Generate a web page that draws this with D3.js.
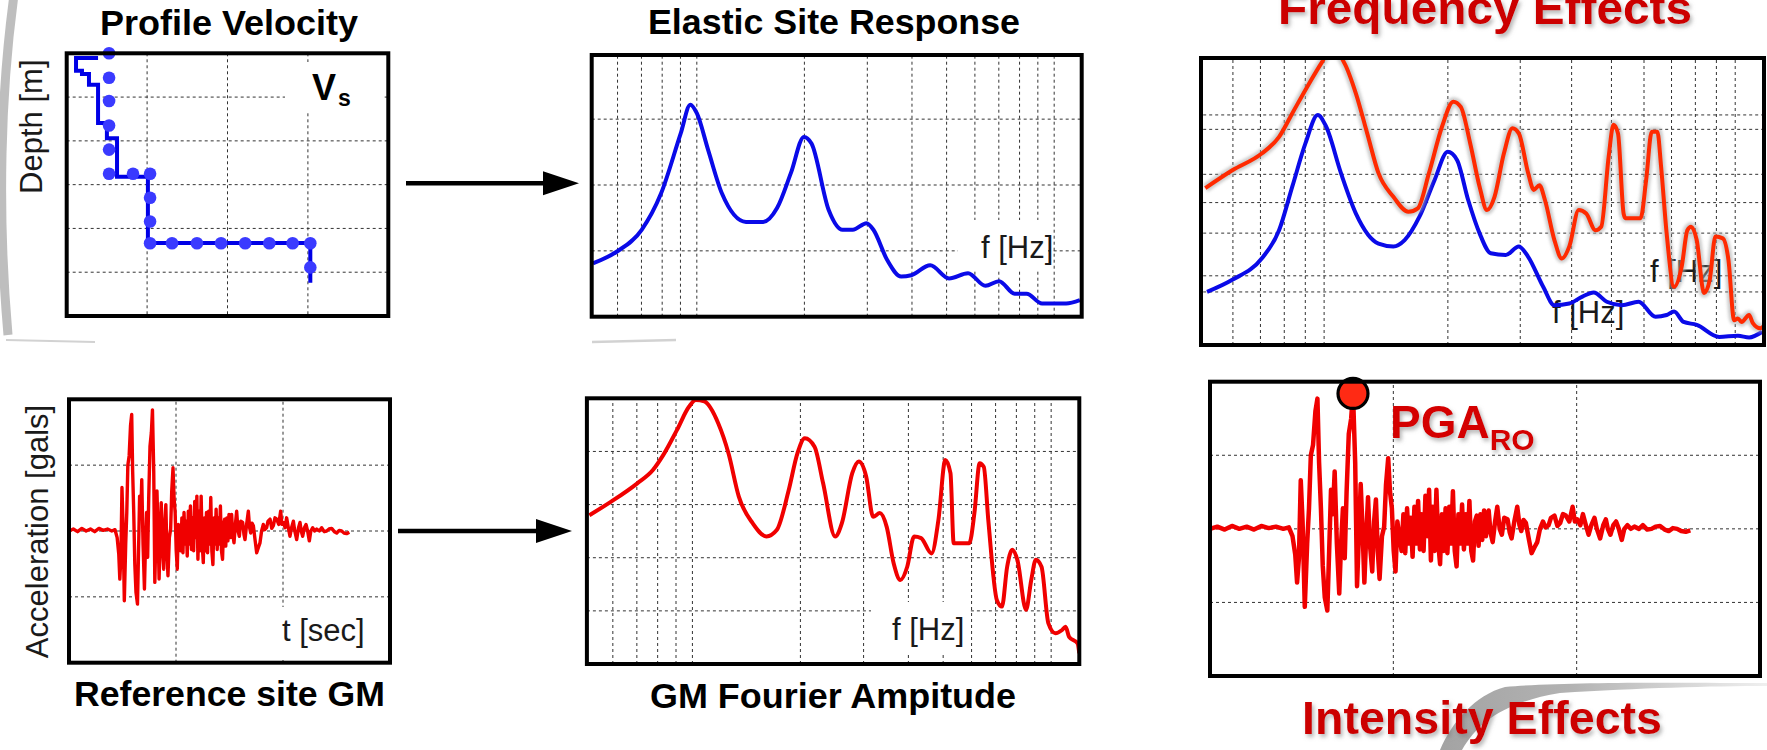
<!DOCTYPE html>
<html lang="en">
<head>
<meta charset="utf-8">
<script src="https://d3js.org/d3.v7.min.js"></script>
<style>
body { margin: 0; background: #fff; }
svg text { font-family: "Liberation Sans", Arial, sans-serif; }
.grid line { stroke: #333; stroke-width: 1; stroke-dasharray: 3,3; }
.frame { fill: none; stroke: #000; stroke-width: 4; }
.title { font-weight: bold; font-size: 35px; fill: #000; text-anchor: middle; }
.redtitle { font-weight: bold; font-size: 47px; fill: #cc0000; text-anchor: middle; }
.lab { font-size: 31px; fill: #1a1a1a; }
</style>
</head>
<body>
<div id="chart"></div>
<script>
// ---- data ----
// shear wave velocity profile (grid units: velocity 0-4, depth 0-6)
var vsVel   = [0.39, 0.116, 0.19, 0.277, 0.39, 0.50, 0.626, 1.01, 3.03];
var vsDepth = [0.11, 0.40, 0.47, 0.72, 1.59, 1.94, 2.82, 4.33, 5.24];
var dotVel   = [0.527,0.527,0.527,0.527,0.527,0.527,0.825,1.037,1.037,1.037,1.037,1.31,1.62,1.92,2.22,2.52,2.81,3.03,3.03];
var dotDepth = [0,0.56,1.09,1.65,2.20,2.75,2.75,2.75,3.30,3.84,4.34,4.34,4.34,4.34,4.34,4.34,4.34,4.34,4.89];

// frequency grid (Hz)
var freqGrid = [0.6,0.7,0.8,0.9,1,2,3,4,5,6,7,8,9,10];

// elastic site response (blue)
var esFreq = [0.512,0.598,0.701,0.794,0.901,0.959,1.0,1.076,1.176,1.373,1.534,1.677,1.833,1.994,2.094,2.339,2.556,2.732,2.985,3.12,3.41,3.73,3.98,4.50,5.08,5.74,6.42,7.01,7.75,8.37,9.25,10.8,11.8];
var esAmp  = [0.81,0.99,1.32,1.87,2.78,3.22,3.09,2.53,1.87,1.44,1.44,1.65,2.18,2.73,2.63,1.62,1.32,1.32,1.42,1.32,0.86,0.61,0.63,0.78,0.58,0.66,0.47,0.54,0.35,0.35,0.20,0.20,0.25];

// GM Fourier amplitude (red)
var faFreq = [0.516,0.595,0.702,0.776,0.829,0.905,0.978,1.022,1.080,1.180,1.261,1.347,1.472,1.608,1.718,1.855,1.961,2.058,2.190,2.314,2.50,2.61,2.79,2.91,3.05,3.19,3.33,3.48,3.64,3.80,3.97,4.15,4.34,4.64,4.85,5.07,5.24,5.35,5.91,6.11,6.32,6.49,6.68,7.06,7.29,7.54,7.79,8.05,8.51,8.80,9.06,9.40,9.82,10.27,10.73,10.97,11.22,11.85,11.98];
var faAmp  = [2.80,3.06,3.40,3.65,3.93,4.40,4.84,4.97,4.94,4.53,3.96,3.15,2.65,2.40,2.52,3.27,3.96,4.25,4.09,3.40,2.40,2.65,3.59,3.81,3.53,2.77,2.84,2.58,1.89,1.58,1.83,2.40,2.37,2.08,2.71,3.84,3.59,2.27,2.27,2.84,3.78,3.71,2.71,1.20,1.08,1.83,2.15,1.96,1.02,1.58,1.96,1.83,0.77,0.58,0.64,0.70,0.51,0.39,0.20];

// frequency effects: blue (elastic) and red (surface)
var feBlueFreq = [0.519,0.598,0.705,0.777,0.837,0.901,0.965,1.011,1.099,1.195,1.356,1.474,1.570,1.707,1.856,1.998,2.105,2.242,2.388,2.543,2.765,2.976,3.136,3.411,3.632,3.949,4.250,4.526,4.871,5.30,5.82,6.40,6.81,7.10,7.49,8.06,9.14,10.15,10.81,11.63];
var feBlueAmp  = [0.92,1.13,1.50,1.99,2.75,3.50,3.99,3.79,2.98,2.28,1.76,1.71,1.82,2.23,2.86,3.35,3.21,2.51,1.94,1.59,1.56,1.71,1.53,1.01,0.69,0.72,0.84,0.91,0.75,0.69,0.75,0.49,0.52,0.58,0.40,0.35,0.14,0.16,0.13,0.23];
var feRedFreq = [0.514,0.598,0.705,0.777,0.837,0.910,0.989,1.021,1.076,1.122,1.195,1.273,1.356,1.474,1.603,1.690,1.799,1.936,2.062,2.150,2.266,2.388,2.490,2.597,2.737,2.872,2.976,3.136,3.236,3.340,3.446,3.632,3.787,3.949,4.162,4.340,4.574,4.721,4.923,5.058,5.187,5.352,5.409,5.885,6.072,6.266,6.466,6.603,6.81,7.10,7.41,7.65,7.81,8.06,8.40,8.67,8.95,9.33,9.63,9.94,10.15,10.36,10.81,11.04,11.51,11.75];
var feRedAmp  = [2.72,3.03,3.32,3.61,4.02,4.48,4.91,5.06,5.06,4.88,4.36,3.67,2.98,2.57,2.31,2.37,2.98,3.79,4.22,4.13,3.50,2.75,2.34,2.57,3.32,3.76,3.67,2.98,2.69,2.77,2.51,1.82,1.50,1.71,2.34,2.28,1.99,2.05,3.27,3.82,3.67,2.28,2.20,2.20,2.86,3.70,3.70,3.09,1.94,1.01,1.36,1.99,2.05,1.82,0.90,1.13,1.88,1.85,1.47,0.43,0.46,0.40,0.52,0.38,0.29,0.33];
var feGridA = [0.92, 1.94, 2.96, 3.99];
var feGridB = [1.20, 2.47, 3.74];

// reference site ground motion (time in s, acceleration in grid units)
var gmTime = [0.0,0.4,0.8,1.2,1.6,2.0,2.4,2.8,3.2,3.6,
  4.0,4.3,4.5,4.65,4.75,4.85,4.95,5.05,5.17,5.30,
  5.40,5.50,5.62,5.75,5.86,5.95,6.05,6.15,6.26,6.40,
  6.50,6.60,6.70,6.80,6.92,7.05,7.15,7.25,7.35,7.45,
  7.57,7.70,7.80,7.92,8.02,8.12,8.22,8.32,8.42,8.52,
  8.62,8.72,8.85,8.95,9.05,9.15,9.25,9.38,9.50,9.60,
  9.72,9.82,9.92,10.02,10.12,10.22,10.32,10.45,10.55,10.65,
  10.75,10.85,10.95,11.05,11.15,11.25,11.35,11.45,11.55,11.65,
  11.75,11.85,11.95,12.05,12.15,12.25,12.35,12.45,12.55,12.65,
  12.75,12.85,12.95,13.05,13.15,13.25,13.35,13.45,13.55,13.65,
  13.75,13.85,13.95,14.05,14.15,14.25,14.35,14.45,14.55,14.65,
  14.75,14.85,14.95,15.05,15.2,15.3,15.42,15.55,15.67,15.8,
  15.92,16.05,16.23,16.35,16.45,16.6,16.76,16.88,16.98,17.1,
  17.23,17.4,17.54,17.7,17.85,18.0,18.16,18.3,18.47,18.6,
  18.79,18.95,19.10,19.25,19.41,19.6,19.78,19.9,20.03,20.2,
  20.34,20.5,20.65,20.8,20.97,21.1,21.28,21.45,21.59,21.7,
  21.84,22.0,22.15,22.3,22.46,22.6,22.77,22.95,23.15,23.4,
  23.61,23.85,24.08,24.3,24.55,24.8,25.02,25.25,25.48,25.7,
  25.95,26.2];
var gmAcc = [0,0.03,-0.01,0.04,0,0.03,-0.01,0.04,0.01,0.03,
  0,0.02,-0.10,-0.35,-0.73,-0.40,0.66,0.10,-1.06,-0.20,
  0.28,1.00,1.14,1.60,1.77,0.90,0.28,-0.50,-0.93,-1.11,
  -0.30,0.53,0.20,0.78,-0.20,-0.88,-0.20,0.28,-0.40,0.50,
  1.29,1.50,1.84,0.90,-0.78,-0.10,0.61,0,-0.73,-0.10,
  0.43,-0.20,-0.58,0.10,0.40,-0.30,-0.68,-0.10,0.03,0.60,
  0.96,0.50,0.28,-0.30,-0.58,0.10,-0.08,-0.30,0.20,-0.33,
  0.28,-0.20,0.15,-0.38,0.30,-0.20,0.38,-0.28,0.20,-0.30,
  0.45,-0.10,0.53,-0.43,0.30,-0.30,0.53,-0.20,-0.48,0.20,
  -0.30,0.28,-0.33,0.30,-0.20,0.51,-0.30,-0.51,0.20,-0.20,
  0.33,-0.28,0.20,-0.20,0.38,-0.30,-0.43,0.10,0.18,-0.23,
  0.20,-0.15,0.25,-0.10,0.25,-0.05,-0.18,0.10,0.30,0,
  -0.08,0.15,0.13,-0.05,-0.13,0.10,0.30,0.05,-0.03,0.12,
  0.08,-0.15,-0.33,-0.25,-0.18,0,0.10,0.02,0.05,0.15,
  0.18,0.04,0.08,0.20,0.18,0.10,0.30,0.10,0.13,0.05,
  0.20,0.05,-0.08,0.05,0.15,0,-0.13,0.05,0.13,0,
  -0.08,0.05,0.10,0,-0.15,0,0.05,0,0.03,0,
  0.05,-0.01,0,0.03,0.04,-0.01,-0.03,0.01,0,-0.03,
  -0.04,-0.02];
var timeGrid = [10, 20];
var accGrid = [-1, 0, 1];

// ---- canvas ----
var W = 1767, H = 750;
var svg = d3.select("#chart").append("svg").attr("width", W).attr("height", H);
var defs = svg.append("defs");

var shadow = defs.append("filter").attr("id", "shadow")
  .attr("x", "-10%").attr("y", "-30%").attr("width", "130%").attr("height", "170%");
shadow.append("feDropShadow").attr("dx", 2).attr("dy", 3).attr("stdDeviation", 2)
  .attr("flood-color", "#777").attr("flood-opacity", 0.55);

var blur = defs.append("filter").attr("id", "blur");
blur.append("feGaussianBlur").attr("stdDeviation", 1.5);

var swooshGrad = defs.append("linearGradient").attr("id", "swoosh")
  .attr("x1", "0%").attr("x2", "100%").attr("y1", "0%").attr("y2", "0%");
swooshGrad.append("stop").attr("offset", "0%").attr("stop-color", "#999");
swooshGrad.append("stop").attr("offset", "40%").attr("stop-color", "#aaa");
swooshGrad.append("stop").attr("offset", "100%").attr("stop-color", "#eee");

// background decorations of the slide
svg.append("path").attr("d", "M14,-5 C1,90 -3,210 8,335")
  .attr("fill", "none").attr("stroke", "#b3b3b3").attr("stroke-width", 9).attr("opacity", 0.85);
svg.append("path").attr("d", "M6,340 L95,342")
  .attr("fill", "none").attr("stroke", "#d2d2d2").attr("stroke-width", 2);
svg.append("path").attr("d", "M592,342 L676,340")
  .attr("fill", "none").attr("stroke", "#d2d2d2").attr("stroke-width", 2.5);
svg.append("path")
  .attr("d", "M1767,683 C1700,683 1570,681 1505,687 C1475,695 1452,722 1440,750 L1462,750 C1478,722 1505,702 1560,693 C1640,688 1710,686 1767,686 Z")
  .attr("fill", "url(#swoosh)").attr("opacity", 0.9);

function clip(name, x, y) {
  var xr = x.range(), yr = y.range();
  defs.append("clipPath").attr("id", "clip-" + name).append("rect")
    .attr("x", Math.min(xr[0], xr[1])).attr("y", Math.min(yr[0], yr[1]))
    .attr("width", Math.abs(xr[1] - xr[0])).attr("height", Math.abs(yr[1] - yr[0]));
  return "url(#clip-" + name + ")";
}

function grid(x, y, xt, yt) {
  var xr = x.range(), yr = y.range();
  var g = svg.append("g").attr("class", "grid");
  g.selectAll("line.gx").data(xt).join("line").attr("class", "gx")
    .attr("x1", d => x(d)).attr("x2", d => x(d)).attr("y1", yr[0]).attr("y2", yr[1]);
  g.selectAll("line.gy").data(yt).join("line").attr("class", "gy")
    .attr("y1", d => y(d)).attr("y2", d => y(d)).attr("x1", xr[0]).attr("x2", xr[1]);
  return g;
}

function frame(x0, y0, x1, y1) {
  return svg.append("rect").attr("class", "frame")
    .attr("x", x0).attr("y", y0).attr("width", x1 - x0).attr("height", y1 - y0);
}

function whiteBox(x0, y0, x1, y1) {
  svg.append("rect").attr("x", x0).attr("y", y0).attr("width", x1 - x0).attr("height", y1 - y0).attr("fill", "#fff");
}

function title(txt, cx, by, len, cls) {
  return svg.append("text").attr("class", cls || "title").attr("x", cx).attr("y", by)
    .attr("textLength", len).attr("lengthAdjust", "spacingAndGlyphs").text(txt);
}

// ---- panel 1: profile velocity ----
var p1x = d3.scaleLinear().domain([0, 4]).range([66.7, 388.3]);
var p1y = d3.scaleLinear().domain([0, 6]).range([53.3, 316]);
grid(p1x, p1y, [1, 2, 3], [1, 2, 3, 4, 5]);
whiteBox(285, 62, 384, 112);
var vs = svg.append("text").attr("x", 312).attr("y", 100).attr("font-weight", "bold").attr("font-size", 36).text("V");
vs.append("tspan").attr("font-size", 23).attr("dx", 2).attr("dy", 6).text("s");
svg.append("path")
  .datum(d3.range(vsVel.length))
  .attr("d", d3.line().curve(d3.curveStepAfter).x(i => p1x(vsVel[i])).y(i => p1y(vsDepth[i])))
  .attr("fill", "none").attr("stroke", "#0000e6").attr("stroke-width", 4);
svg.append("g").selectAll("circle").data(d3.range(dotVel.length)).join("circle")
  .attr("cx", i => p1x(dotVel[i])).attr("cy", i => p1y(dotDepth[i])).attr("r", 6.3)
  .attr("fill", "#3a3aff");
frame(66.7, 53.3, 388.3, 316);
title("Profile Velocity", 229, 35, 258);
svg.append("text").attr("class", "lab").attr("font-size", 32)
  .attr("transform", "translate(41.5,126.7) rotate(-90)").attr("text-anchor", "middle").text("Depth [m]");

// ---- panel 2: elastic site response ----
var p2x = d3.scaleLog().domain([0.508, 11.94]).range([591.7, 1081.7]);
var p2y = d3.scaleLinear().domain([0, 4]).range([316.7, 53.3]);
grid(p2x, p2y, freqGrid, [1, 2, 3]);
whiteBox(958, 220, 1048, 270);
svg.append("text").attr("class", "lab").attr("x", 981).attr("y", 258).text("f [Hz]");
svg.append("path").datum(d3.range(esFreq.length)).attr("clip-path", clip("p2", p2x, p2y))
  .attr("d", d3.line().curve(d3.curveMonotoneX).x(i => p2x(esFreq[i])).y(i => p2y(esAmp[i])))
  .attr("fill", "none").attr("stroke", "#0a0ae8").attr("stroke-width", 4);
frame(591.7, 55, 1081.7, 316.7);
title("Elastic Site Response", 834, 33.5, 372);

// ---- panel 3: frequency effects ----
var p3x = d3.scaleLog().domain([0.508, 11.75]).range([1203.2, 1764]);
var p3y = d3.scaleLinear().domain([0, 5]).range([345, 56.7]);
grid(p3x, p3y, freqGrid, feGridA);
grid(p3x, p3y, [], feGridB);
svg.append("text").attr("class", "lab").attr("font-size", 37).attr("x", 1552).attr("y", 323).text("f [Hz]");
svg.append("text").attr("class", "lab").attr("font-size", 37).attr("x", 1650).attr("y", 282).text("f [Hz]");
var c3 = clip("p3", p3x, p3y);
svg.append("path").datum(d3.range(feBlueFreq.length)).attr("clip-path", c3)
  .attr("d", d3.line().curve(d3.curveMonotoneX).x(i => p3x(feBlueFreq[i])).y(i => p3y(feBlueAmp[i])))
  .attr("fill", "none").attr("stroke", "#0a0ae8").attr("stroke-width", 4);
var redLine3 = d3.line().curve(d3.curveMonotoneX).x(i => p3x(feRedFreq[i])).y(i => p3y(feRedAmp[i]));
svg.append("g").attr("clip-path", c3).append("path").datum(d3.range(feRedFreq.length))
  .attr("d", redLine3).attr("fill", "none").attr("stroke", "#aaa").attr("stroke-width", 9)
  .attr("opacity", 0.6).attr("filter", "url(#blur)");
svg.append("path").datum(d3.range(feRedFreq.length)).attr("clip-path", c3)
  .attr("d", redLine3).attr("fill", "none").attr("stroke", "#ff2a00").attr("stroke-width", 4);
frame(1201, 58, 1764, 345).attr("stroke-width", 5);
title("Frequency Effects", 1485, 24, 414, "redtitle").attr("filter", "url(#shadow)");

// ---- panel 4: reference site GM ----
var p4x = d3.scaleLinear().domain([0, 30]).range([69, 390]);
var p4y = d3.scaleLinear().domain([-2, 2]).range([662.7, 399.3]);
grid(p4x, p4y, timeGrid, accGrid);
whiteBox(275, 607, 386, 660);
svg.append("text").attr("class", "lab").attr("x", 282).attr("y", 641).text("t [sec]");
svg.append("path").datum(d3.range(gmTime.length)).attr("clip-path", clip("p4", p4x, p4y))
  .attr("d", d3.line().x(i => p4x(gmTime[i])).y(i => p4y(gmAcc[i])))
  .attr("fill", "none").attr("stroke", "#f00000").attr("stroke-width", 3.4).attr("stroke-linejoin", "round");
frame(69, 399.3, 390, 662.7);
title("Reference site GM", 229.5, 706, 311);
svg.append("text").attr("class", "lab").attr("font-size", 32)
  .attr("transform", "translate(48,531.5) rotate(-90)").attr("text-anchor", "middle").text("Acceleration [gals]");

// ---- panel 5: GM Fourier amplitude ----
var p5x = d3.scaleLog().domain([0.508, 11.98]).range([586.9, 1079.3]);
var p5y = d3.scaleLinear().domain([0, 5]).range([664, 398.3]);
grid(p5x, p5y, freqGrid, [1, 2, 3, 4]);
whiteBox(871, 602, 968, 652);
svg.append("text").attr("class", "lab").attr("x", 892).attr("y", 640).text("f [Hz]");
svg.append("path").datum(d3.range(faFreq.length)).attr("clip-path", clip("p5", p5x, p5y))
  .attr("d", d3.line().curve(d3.curveMonotoneX).x(i => p5x(faFreq[i])).y(i => p5y(faAmp[i])))
  .attr("fill", "none").attr("stroke", "#f00000").attr("stroke-width", 4);
frame(586.9, 398.3, 1079.3, 664);
title("GM Fourier Ampitude", 833, 708, 366);

// ---- panel 6: intensity effects ----
var p6x = d3.scaleLinear().domain([0, 30]).range([1210, 1760]);
var p6y = d3.scaleLinear().domain([-2, 2]).range([676, 381.7]);
grid(p6x, p6y, timeGrid, accGrid);
svg.append("path").datum(d3.range(gmTime.length)).attr("clip-path", clip("p6", p6x, p6y))
  .attr("d", d3.line().x(i => p6x(gmTime[i])).y(i => p6y(gmAcc[i])))
  .attr("fill", "none").attr("stroke", "#f00000").attr("stroke-width", 4.5).attr("stroke-linejoin", "round");
var iPga = d3.maxIndex(gmAcc);
svg.append("circle").attr("cx", p6x(gmTime[iPga])).attr("cy", p6y(gmAcc[iPga]))
  .attr("r", 15).attr("fill", "#ff2a14").attr("stroke", "#000").attr("stroke-width", 3.2);
var pga = svg.append("text").attr("x", 1390).attr("y", 438).attr("font-weight", "bold")
  .attr("font-size", 46).attr("fill", "#d40000").attr("filter", "url(#shadow)").text("PGA");
pga.append("tspan").attr("font-size", 30).attr("dy", 12).text("RO");
frame(1210, 381.7, 1760, 676);
title("Intensity Effects", 1482, 734, 360, "redtitle").attr("filter", "url(#shadow)");

// ---- arrows ----
function arrow(x0, x1, y) {
  svg.append("line").attr("x1", x0).attr("x2", x1 - 30).attr("y1", y).attr("y2", y)
    .attr("stroke", "#000").attr("stroke-width", 4.5);
  svg.append("path").attr("d", "M" + (x1 - 36) + "," + (y - 12) + " L" + x1 + "," + y + " L" + (x1 - 36) + "," + (y + 12) + " Z")
    .attr("fill", "#000");
}
arrow(406, 579, 183.3);
arrow(398, 572, 531);
</script>
</body>
</html>
